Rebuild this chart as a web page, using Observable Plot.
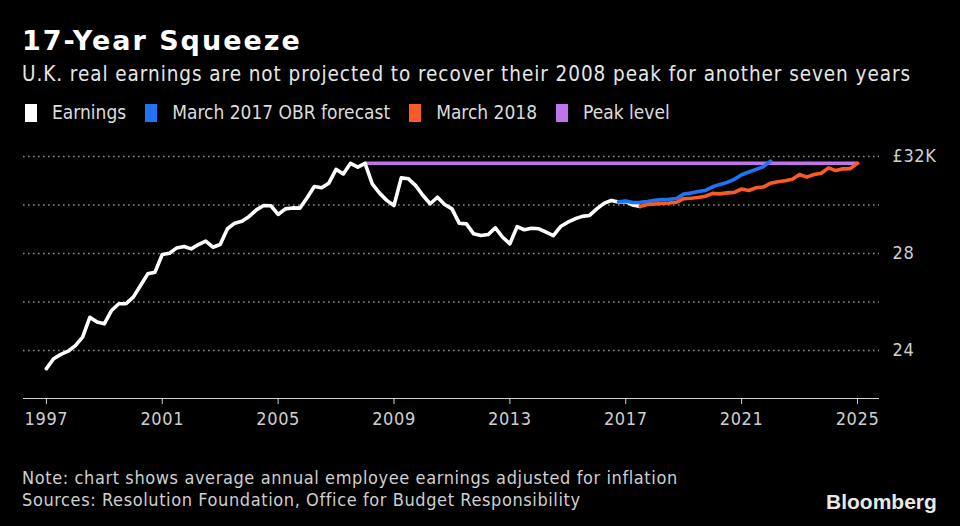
<!DOCTYPE html>
<html><head><meta charset="utf-8">
<script src="https://cdn.jsdelivr.net/npm/d3@7"></script>
<script src="https://cdn.jsdelivr.net/npm/@observablehq/plot@0.6"></script>
<style>
html,body{margin:0;padding:0;background:#000;}
body{width:960px;height:526px;position:relative;overflow:hidden;font-family:"DejaVu Sans Condensed","DejaVu Sans",sans-serif;font-stretch:condensed;color:#fff;}
.abs{position:absolute;white-space:nowrap;}
#title{left:22px;top:27px;font-family:"DejaVu Sans",sans-serif;font-stretch:normal;font-weight:bold;font-size:27px;line-height:27px;letter-spacing:2px;color:#fff;}
#subtitle{left:22px;top:64px;font-size:20.5px;line-height:20.5px;letter-spacing:0.94px;color:#e6e6e6;}
#legend{left:25px;top:103px;font-size:19px;line-height:19px;color:#dcdcdc;display:flex;align-items:center;}
#legend .item{display:flex;align-items:center;margin-right:19px;}
#legend .sw{display:inline-block;width:12px;height:18px;margin-right:15px;}
#note{left:22px;top:469px;font-size:18px;line-height:18px;letter-spacing:0.6px;color:#cfcfcf;}
#source{left:22px;top:491px;font-size:18px;line-height:18px;letter-spacing:0.6px;color:#cfcfcf;}
#logo{left:826px;top:491px;font-family:"Liberation Sans",Arial,sans-serif;font-stretch:normal;font-weight:bold;font-size:21px;line-height:21px;letter-spacing:0px;color:#e8e8e8;}
#chart{position:absolute;left:0;top:130px;}
#chart svg text{letter-spacing:0.6px;}
</style>
</head>
<body>
<div id="title" class="abs">17-Year Squeeze</div>
<div id="subtitle" class="abs">U.K. real earnings are not projected to recover their 2008 peak for another seven years</div>
<div id="legend" class="abs"></div>
<div id="chart"></div>
<div id="note" class="abs">Note: chart shows average annual employee earnings adjusted for inflation</div>
<div id="source" class="abs">Sources: Resolution Foundation, Office for Budget Responsibility</div>
<div id="logo" class="abs">Bloomberg</div>
<script>
// ---- Data (thousands of £, quarterly) ----
const seriesNames = ["Earnings", "March 2017 OBR forecast", "March 2018", "Peak level"];
const seriesColors = ["#ffffff", "#1f74f5", "#fa5a24", "#be74ea"];

const earningsStart = 1997.0;
const earningsValues = [
  23.25, 23.66, 23.84, 23.97, 24.20, 24.55, 25.37, 25.17, 25.10, 25.65,
  25.93, 25.93, 26.20, 26.68, 27.16, 27.23, 27.96, 28.01, 28.23, 28.29,
  28.19, 28.37, 28.51, 28.26, 28.37, 29.02, 29.25, 29.33, 29.53, 29.80,
  29.98, 29.97, 29.61, 29.84, 29.88, 29.87, 30.30, 30.76, 30.71, 30.90,
  31.47, 31.28, 31.72, 31.56, 31.72, 30.87, 30.49, 30.19, 29.98, 31.12,
  31.08, 30.80, 30.39, 30.05, 30.32, 30.02, 29.84, 29.25, 29.22, 28.81,
  28.74, 28.78, 29.06, 28.67, 28.40, 29.11, 28.98, 29.04, 29.02, 28.88,
  28.74, 29.11, 29.29, 29.43, 29.53, 29.57, 29.84, 30.07, 30.19, 30.12,
  30.14, 30.00, 29.94
];

const obr2017Start = 2016.75;
const obr2017Values = [
  30.13, 30.16, 30.10, 30.11, 30.14, 30.19, 30.22, 30.24, 30.27, 30.45,
  30.49, 30.56, 30.60, 30.75, 30.85, 30.93, 31.06, 31.25, 31.36, 31.47,
  31.58, 31.81
];

const march2018Start = 2017.5;
const march2018Values = [
  29.94, 30.02, 30.04, 30.06, 30.08, 30.11, 30.26, 30.28, 30.31, 30.36,
  30.48, 30.46, 30.50, 30.52, 30.66, 30.60, 30.71, 30.74, 30.90, 30.96,
  31.00, 31.06, 31.26, 31.15, 31.26, 31.31, 31.53, 31.42, 31.49, 31.50,
  31.72
];

const peakYears = [2008, 2025];
const peakValues = [31.72, 31.72];

const xTicks = [1997, 2001, 2005, 2009, 2013, 2017, 2021, 2025];
const yGrid = [24, 26, 28, 30, 32];
const yTicks = [24, 28, 32];
const yTickLabels = ["24", "28", "£32K"];

// ---- Build tables ----
const toRows = (start, vals) => vals.map((v, i) => ({year: start + i / 4, value: v}));
const earnings = toRows(earningsStart, earningsValues);
const obr2017 = toRows(obr2017Start, obr2017Values);
const march2018 = toRows(march2018Start, march2018Values);
const peak = peakYears.map((y, i) => ({year: y, value: peakValues[i]}));

// ---- Legend ----
const legend = document.getElementById("legend");
seriesNames.forEach((n, i) => {
  const it = document.createElement("div");
  it.className = "item";
  it.innerHTML = `<span class="sw" style="background:${seriesColors[i]}"></span><span>${n}</span>`;
  legend.appendChild(it);
});

const yMin = 22.02, yMax = 32.66;
const lineOpts = {x: "year", y: "value", strokeWidth: 3.6, strokeLinejoin: "round", strokeLinecap: "round"};

const chart = Plot.plot({
  width: 960,
  height: 310,
  marginLeft: 23,
  marginRight: 81,
  marginTop: 10,
  marginBottom: 42,
  x: {domain: [1996.21, 2025.76]},
  y: {domain: [yMin, yMax]},
  style: {background: "transparent", color: "#cfcfcf", fontSize: "18px", fontFamily: "'DejaVu Sans Condensed','DejaVu Sans',sans-serif", fontStretch: "condensed"},
  marks: [
    Plot.ruleY(yGrid, {stroke: "#8c8c8c", strokeWidth: 1.6, strokeDasharray: "1.6,3.4"}),
    Plot.ruleY([yMin], {stroke: "#cfcfcf", strokeWidth: 1.2}),
    Plot.axisX({ticks: xTicks, tickFormat: d => String(d), tickSize: 6, tickPadding: 8, label: null, stroke: "#cfcfcf"}),
    Plot.axisY({anchor: "right", ticks: yTicks, tickFormat: (d) => yTickLabels[yTicks.indexOf(d)], tickSize: 0, tickPadding: 13, textAnchor: "start", label: null}),
    Plot.line(peak, {...lineOpts, stroke: seriesColors[3], strokeWidth: 3.6}),
    Plot.line(earnings, {...lineOpts, stroke: seriesColors[0]}),
    Plot.line(obr2017, {...lineOpts, stroke: seriesColors[1]}),
    Plot.line(march2018, {...lineOpts, stroke: seriesColors[2]})
  ]
});
document.getElementById("chart").appendChild(chart);
</script>
</body></html>
